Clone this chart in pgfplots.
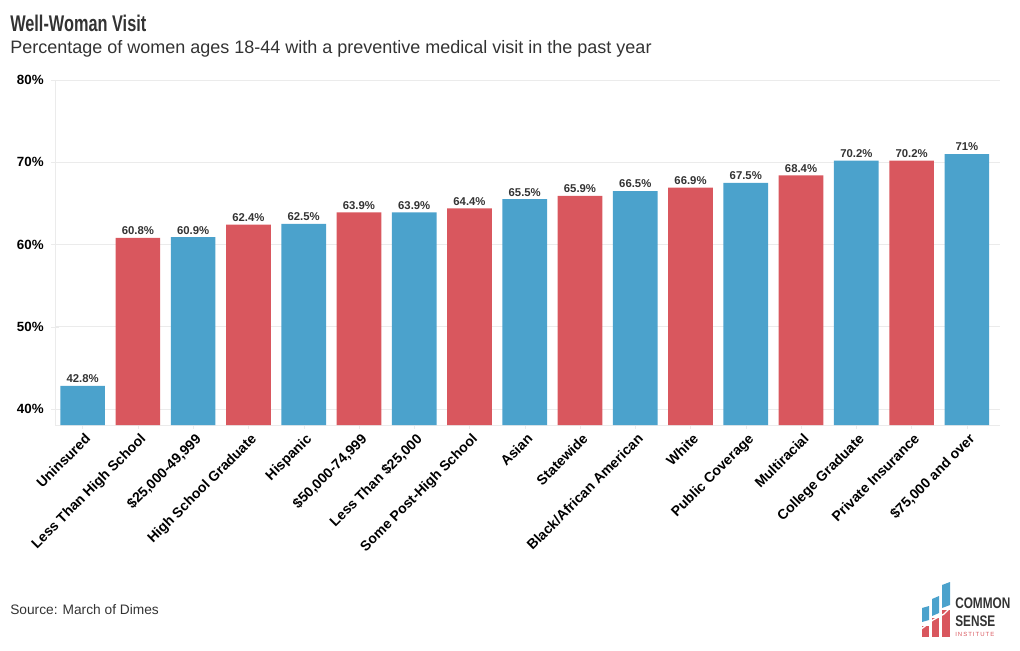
\documentclass[border=0pt]{standalone}
\usepackage{pgfplots}
\pgfplotsset{compat=1.18}
\usepackage{fontspec}
\setmainfont{Liberation Sans}
\definecolor{barblue}{HTML}{4BA2CC}
\definecolor{barred}{HTML}{D9575E}
\definecolor{txt}{HTML}{333333}
\definecolor{gridc}{HTML}{EBEBEB}
\begin{document}
\begin{tikzpicture}[x=0.75pt,y=0.75pt]
\path[use as bounding box] (0,0) rectangle (1020,650);
\begin{axis}[
  at={(41.25pt,168.75pt)}, anchor=south west,
  scale only axis, width=708.75pt, height=258.75pt,
  xmin=-0.5, xmax=16.6, ymin=38.05, ymax=80,
  ybar, bar width=33.5pt, bar shift=0pt,
  axis x line=bottom, axis y line=left,
  axis line style={gridc, -},
  ytick={40,50,60,70,80},
  yticklabel={\pgfmathprintnumber{\tick}\%},
  yticklabel style={font=\bfseries\fontsize{10}{12}\selectfont, text=black, xshift=-2pt},
  /pgf/number format/assume math mode=true,
  ymajorgrids, grid style={gridc},
  major tick length=6pt,
  tick style={gridc},
  xtick={0,...,16},
  xticklabels={Uninsured,Less Than High School,{\$25,000-49,999},High School Graduate,Hispanic,{\$50,000-74,999},{Less Than \$25,000},Some Post-High School,Asian,Statewide,Black/African American,White,Public Coverage,Multiracial,College Graduate,Private Insurance,{\$75,000 and over}},
  xticklabel style={rotate=45, anchor=north east, font=\bfseries\fontsize{10.5}{12}\selectfont, inner sep=1pt, text=black, yshift=-1.5pt},
  xtick pos=bottom, ytick pos=left,
  nodes near coords={\pgfmathprintnumber[fixed,precision=1]{\pgfplotspointmeta}\%},
  nodes near coords style={font=\bfseries\fontsize{8.5}{10}\selectfont, text=txt, inner sep=2pt},
]
\addplot[fill=barblue, draw=none] coordinates {(0,42.8) (2,60.9) (4,62.5) (6,63.9) (8,65.5) (10,66.5) (12,67.5) (14,70.2) (16,71)};
\addplot[fill=barred, draw=none] coordinates {(1,60.8) (3,62.4) (5,63.9) (7,64.4) (9,65.9) (11,66.9) (13,68.4) (15,70.2)};
\end{axis}
\node[anchor=base west, inner sep=0, text=txt, font=\bfseries\fontsize{17}{20}\selectfont] at (10,618) {\scalebox{0.72}[1]{Well-Woman Visit}};
\node[anchor=base west, inner sep=0, text=txt, font=\fontsize{13.5}{16}\selectfont] at (10,596) {Percentage of women ages 18-44 with a preventive medical visit in the past year};
\node[anchor=base west, inner sep=0, text=txt, font=\fontsize{10.3}{12}\selectfont] at (10,36) {Source: March of Dimes};
% logo
\fill[barblue] (922,28) -- (929,30) -- (929,44) -- (922,42) -- cycle;
\fill[barblue] (932,34) -- (939,37) -- (939,54) -- (932,51) -- cycle;
\fill[barblue] (942,42) -- (950,45) -- (950,68) -- (942,65) -- cycle;
\fill[barred] (922,13) rectangle (929,24);
\fill[barred] (932,13) rectangle (939,32);
\fill[barred] (942,13) rectangle (950,40);
\draw[white, line width=1pt] (920,20) -- (933,30) -- (944,36) -- (952,44);
\node[anchor=base west, inner sep=0, text=txt, font=\bfseries\fontsize{11.5}{12}\selectfont] at (955,42) {\scalebox{0.77}[1]{COMMON}};
\node[anchor=base west, inner sep=0, text=txt, font=\bfseries\fontsize{11.5}{12}\selectfont] at (955,24) {\scalebox{0.77}[1]{SENSE}};
\node[anchor=base west, inner sep=0, text=barred, font=\fontsize{4.5}{5}\selectfont] at (955,14) {I\,N\,S\,T\,I\,T\,U\,T\,E};
\end{tikzpicture}
\end{document}
